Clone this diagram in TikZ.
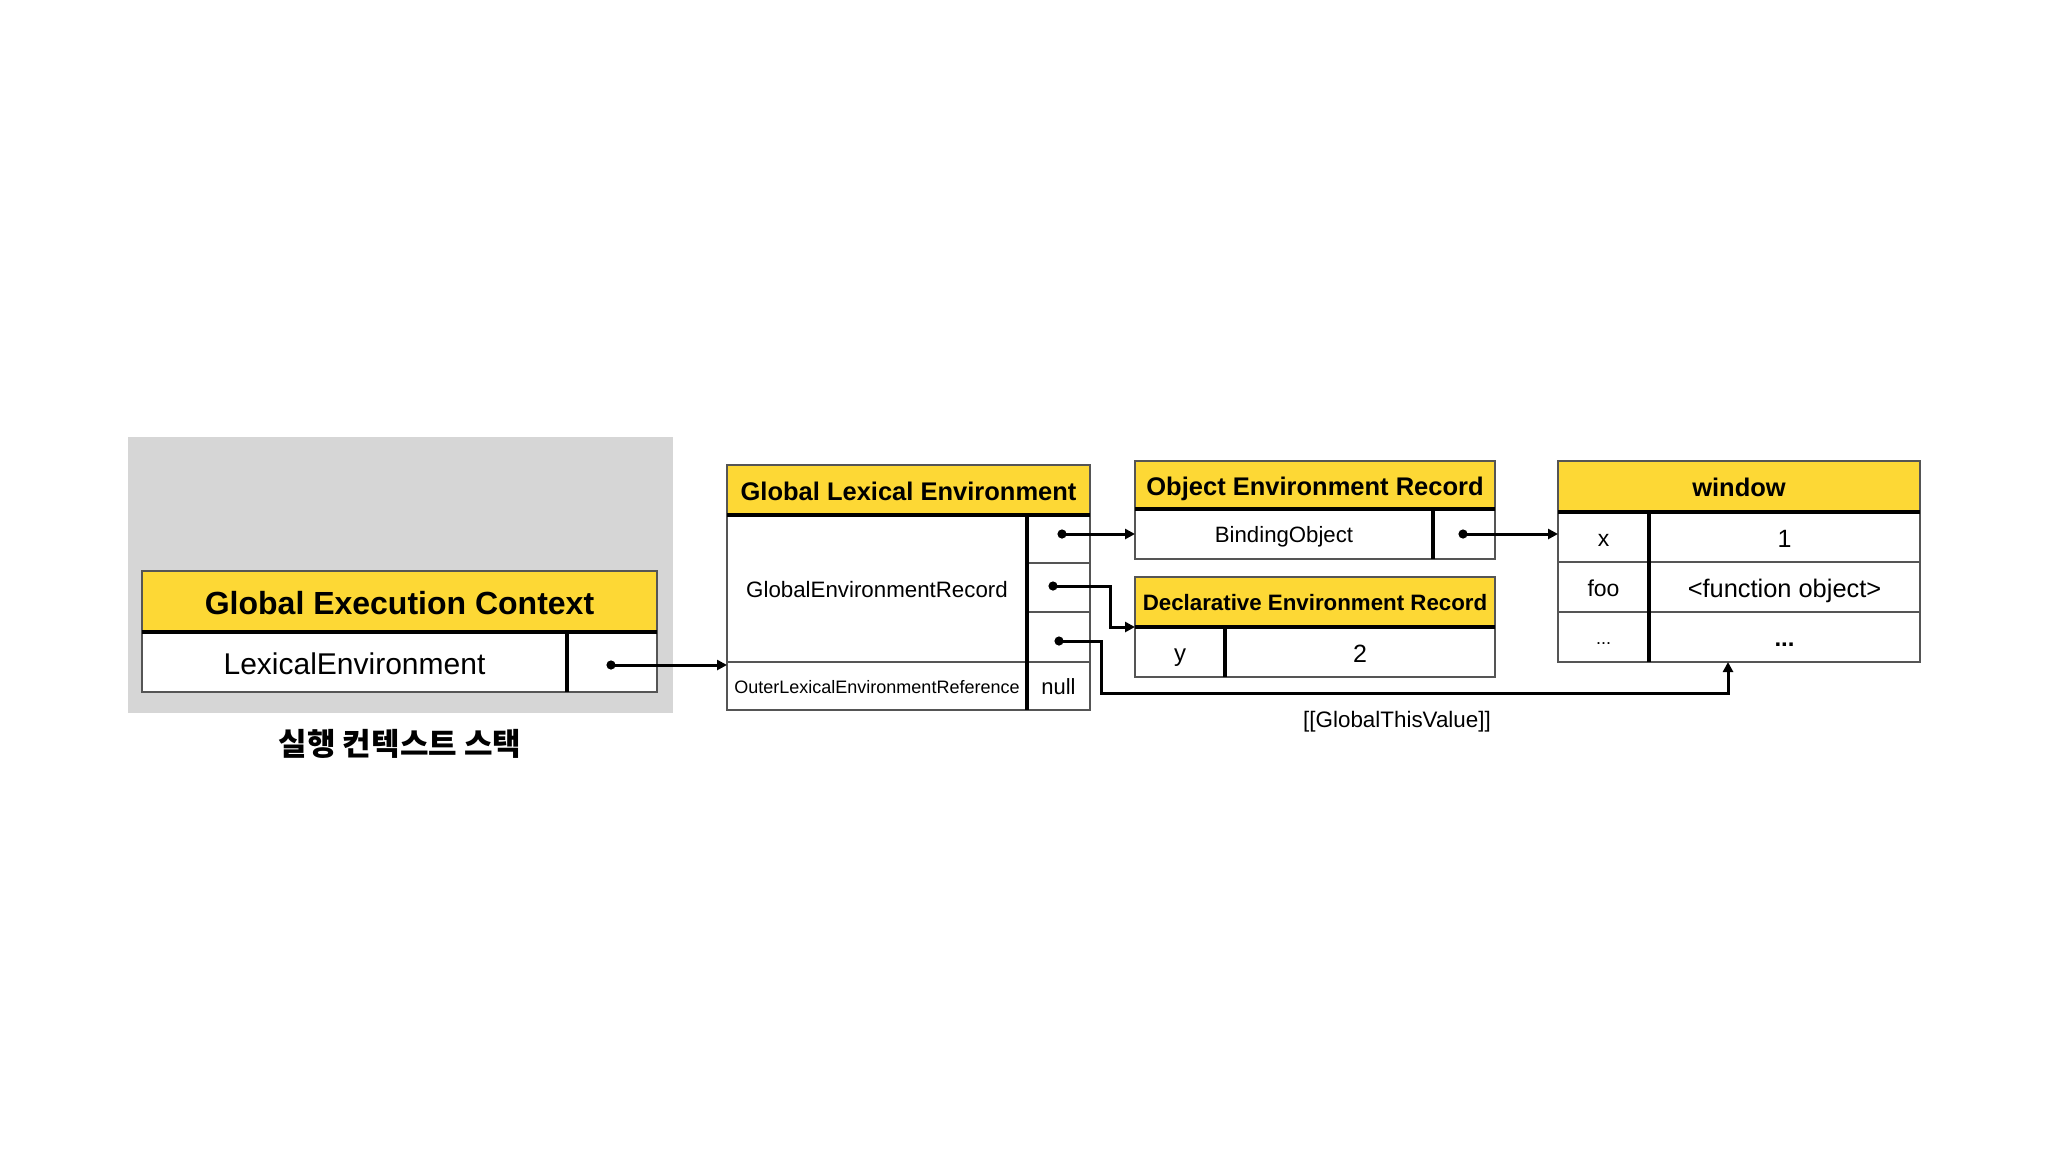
\documentclass[tikz,border=0pt]{standalone}
\usepackage{fontspec}
\setmainfont{Liberation Sans}
\newfontfamily\krfont{Noto Sans CJK KR}
\usetikzlibrary{arrows.meta}
\definecolor{hdr}{RGB}{253,216,53}
\definecolor{bg}{RGB}{214,214,214}
\definecolor{edge}{RGB}{85,85,85}
\newcommand{\fsz}[1]{\fontsize{#1}{#1}\selectfont}
\begin{document}
\begin{tikzpicture}[x=0.5pt,y=-0.5pt,
  cell/.style={anchor=north west, inner sep=0pt, outer sep=0pt, fill=white, text=black, align=center, text depth=0pt},
  hcell/.style={cell, fill=hdr},
  rsz/.style={font=\fsz{#1}, text height={0.8*#1}},
  bsz/.style={font=\fsz{#1}\bfseries, text height={0.8*#1}},
  thinline/.style={draw=edge, line width=0.9pt},
  thickline/.style={draw=black, line width=1.6pt},
  link/.style={draw=black, line width=1.5pt, -{Triangle[length=5pt,width=5pt]}},
  dotnode/.style={circle, fill=black, inner sep=0pt, minimum size=4.6pt}
]
\useasboundingbox (0,0) rectangle (2048,1152);
\fill[white] (0,0) rectangle (2048,1152);

% execution context stack
\node[fill=bg, anchor=north west, inner sep=0pt, minimum width=272.5pt, minimum height=138pt] (stack) at (128,437) {};
\node[font=\krfont\fsz{15.5pt}\bfseries] (stacklbl) at (400,744) {실행 컨텍스트 스택};

% Global Execution Context
\node[hcell, minimum width=257.5pt, minimum height=30.5pt, bsz=16pt] (gecH) at (142,571) {Global Execution Context};
\node[cell, minimum width=212.5pt, minimum height=30pt, rsz=15pt] (gecL) at (142,632) {LexicalEnvironment};
\node[cell, minimum width=45pt, minimum height=30pt] (gecP) at (567,632) {};
\draw[thinline] (gecH.north west) rectangle (gecP.south east);
\draw[thickline] (gecH.south west) -- (gecH.south east);
\draw[thickline] (gecP.north west) -- (gecP.south west);

% Global Lexical Environment
\node[hcell, minimum width=181.5pt, minimum height=25pt, bsz=12.75pt] (gleH) at (727,465) {Global Lexical Environment};
\node[cell, minimum width=150pt, minimum height=73.5pt, rsz=11.15pt] (gleR) at (727,515) {GlobalEnvironmentRecord};
\node[cell, minimum width=31.5pt, minimum height=24pt] (gleP1) at (1027,515) {};
\node[cell, minimum width=31.5pt, minimum height=24.5pt] (gleP2) at (1027,563) {};
\node[cell, minimum width=31.5pt, minimum height=25pt] (gleP3) at (1027,612) {};
\node[cell, minimum width=150pt, minimum height=24pt, rsz=9pt] (gleO) at (727,662) {OuterLexicalEnvironmentReference};
\node[cell, minimum width=31.5pt, minimum height=24pt, rsz=11pt] (gleN) at (1027,662) {null};
\draw[thinline] (gleH.north west) rectangle (gleN.south east);
\draw[thinline] (gleP1.south west) -- (gleP1.south east);
\draw[thinline] (gleP2.south west) -- (gleP2.south east);
\draw[thinline] (gleO.north west) -- (gleN.north east);
\draw[thickline] (gleH.south west) -- (gleH.south east);
\draw[thickline] (gleP1.north west) -- (gleN.south west);

% Object Environment Record
\node[hcell, minimum width=180pt, minimum height=24pt, bsz=12.75pt] (oerH) at (1135,461) {Object Environment Record};
\node[cell, minimum width=149pt, minimum height=25pt, rsz=11.1pt] (oerB) at (1135,509) {BindingObject};
\node[cell, minimum width=31pt, minimum height=25pt] (oerP) at (1433,509) {};
\draw[thinline] (oerH.north west) rectangle (oerP.south east);
\draw[thickline] (oerH.south west) -- (oerH.south east);
\draw[thickline] (oerP.north west) -- (oerP.south west);

% Declarative Environment Record
\node[hcell, minimum width=180pt, minimum height=25pt, bsz=11.15pt] (derH) at (1135,577) {Declarative Environment Record};
\node[cell, minimum width=45pt, minimum height=25pt, rsz=12pt] (derY) at (1135,627) {y};
\node[cell, minimum width=135pt, minimum height=25pt, rsz=12.5pt] (derV) at (1225,627) {2};
\draw[thinline] (derH.north west) rectangle (derV.south east);
\draw[thickline] (derH.south west) -- (derH.south east);
\draw[thickline] (derV.north west) -- (derV.south west);

% window
\node[hcell, minimum width=181pt, minimum height=25.5pt, bsz=12.75pt] (winH) at (1558,461) {window};
\node[cell, minimum width=45.5pt, minimum height=25pt, rsz=11.5pt] (winK1) at (1558,512) {x};
\node[cell, minimum width=135.5pt, minimum height=25pt, rsz=12.5pt] (winV1) at (1649,512) {1};
\node[cell, minimum width=45.5pt, minimum height=25pt, rsz=11.5pt] (winK2) at (1558,562) {foo};
\node[cell, minimum width=135.5pt, minimum height=25pt, rsz=12.7pt] (winV2) at (1649,562) {<function object>};
\node[cell, minimum width=45.5pt, minimum height=25pt, rsz=9pt] (winK3) at (1558,612) {...};
\node[cell, minimum width=135.5pt, minimum height=25pt, bsz=12pt] (winV3) at (1649,612) {...};
\draw[thinline] (winH.north west) rectangle (winV3.south east);
\draw[thinline] (winK1.south west) -- (winV1.south east);
\draw[thinline] (winK2.south west) -- (winV2.south east);
\draw[thickline] (winH.south west) -- (winH.south east);
\draw[thickline] (winV1.north west) -- (winV3.south west);

% label
\node[font=\fsz{11.2pt}] (gtv) at (1397,722) {[[GlobalThisValue]]};

% pointers
\node[dotnode] (d0) at (611,665) {};
\node[dotnode] (d1) at (1062,534) {};
\node[dotnode] (d2) at (1053,586) {};
\node[dotnode] (d3) at (1059,641) {};
\node[dotnode] (d4) at (1463,534) {};
\coordinate (b2) at (1110,586);
\coordinate (b3) at (1101,693);
\coordinate (t3) at (1728,662);

\draw[link] (d0.center) -- (d0 -| gleO.west);
\draw[link] (d1.center) -- (d1 -| oerB.west);
\draw[link] (d2.center) -- (b2) |- (derH.south west);
\draw[link] (d3.center) -| (b3) -| (t3);
\draw[link] (d4.center) -- (d4 -| winK1.west);
\end{tikzpicture}
\end{document}
